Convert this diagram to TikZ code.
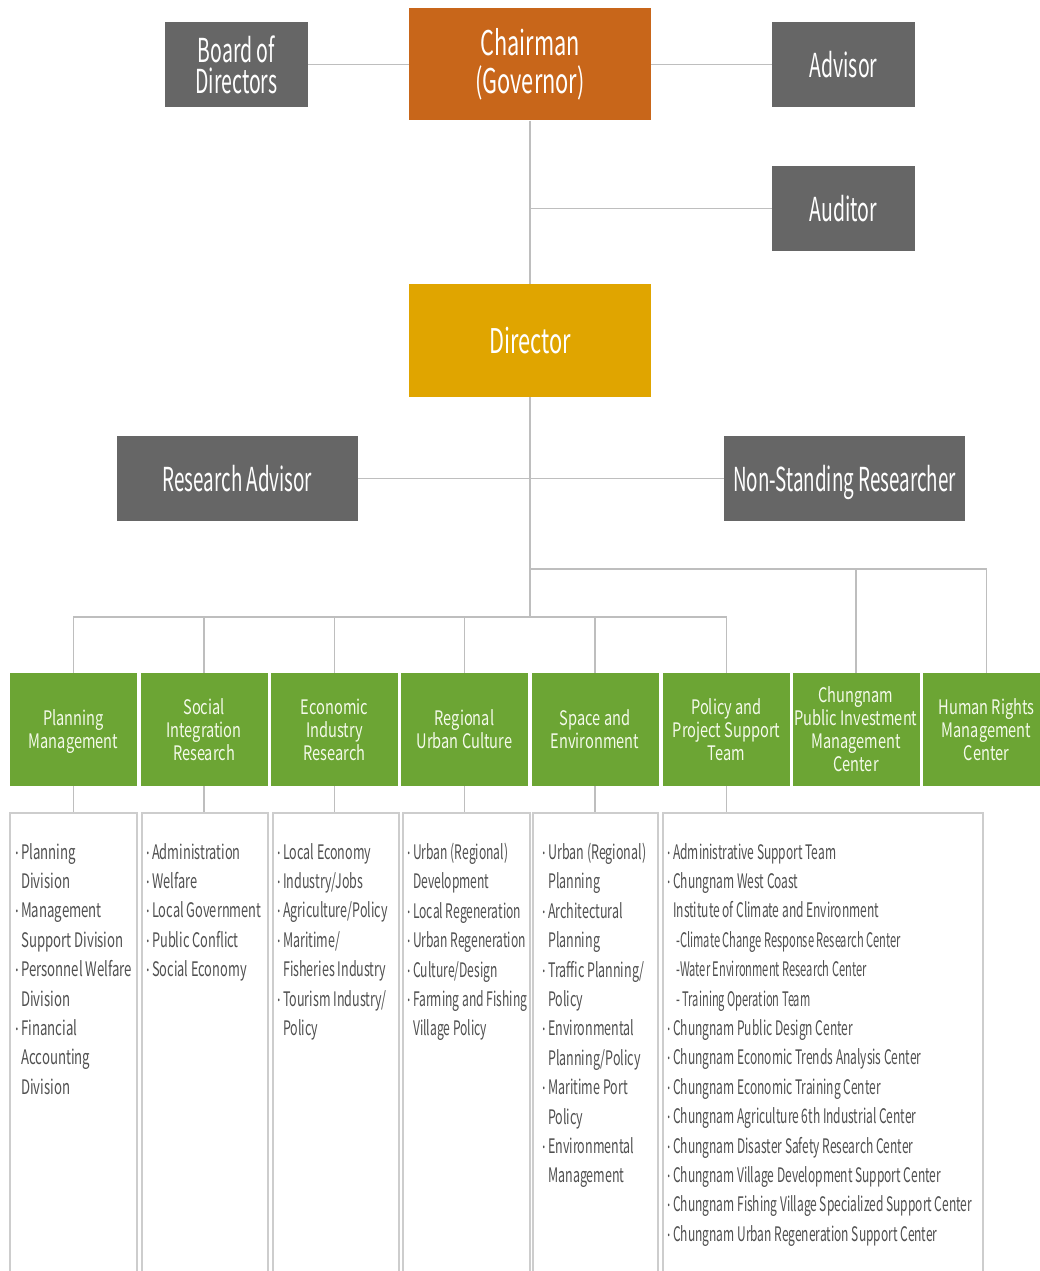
\documentclass[tikz,border=0pt]{standalone}
\usepackage{fontspec}
\setmainfont{Noto Sans CJK KR}
% condensed cuts of the same family for the different text blocks
\newfontfamily\chairfont{Noto Sans CJK KR}[FakeStretch=0.64]
\newfontfamily\greyfont{Noto Sans CJK KR}[FakeStretch=0.59]
\newfontfamily\widegreyfont{Noto Sans CJK KR}[FakeStretch=0.57]
\newfontfamily\unitfont{Noto Sans CJK KR}[FakeStretch=0.73]
\newfontfamily\listA{Noto Sans CJK KR}[FakeStretch=0.66]
\newfontfamily\listB{Noto Sans CJK KR}[FakeStretch=0.64]
\newfontfamily\listC{Noto Sans CJK KR}[FakeStretch=0.625]
\newfontfamily\listD{Noto Sans CJK KR}[FakeStretch=0.605]
\newfontfamily\listE{Noto Sans CJK KR}[FakeStretch=0.60]
\newfontfamily\listF{Noto Sans CJK KR}[FakeStretch=0.555]

\definecolor{chairorange}{RGB}{200,102,26}
\definecolor{directorgold}{RGB}{224,165,0}
\definecolor{boxgrey}{RGB}{102,102,102}
\definecolor{unitgreen}{RGB}{108,165,52}
\definecolor{unittext}{RGB}{244,250,234}
\definecolor{linegrey}{RGB}{190,190,190}
\definecolor{framegrey}{RGB}{205,205,205}
\definecolor{itemgrey}{RGB}{80,80,80}

% bullet and hanging indent for the duty lists
\newcommand\itm{\makebox[6pt][l]{\raisebox{5pt}{.}}}
\newcommand\cnt{\hspace*{6pt}}
\newcommand\subline[1]{{\listF #1}}

\tikzset{
  box/.style={inner sep=0pt, align=center, text=white},
  topbox/.style={box, minimum width=242pt, font=\chairfont\fontsize{34}{38}\selectfont},
  greybox/.style={box, fill=boxgrey, minimum width=143pt, minimum height=85pt,
    text depth=0pt, font=\greyfont\fontsize{33}{31}\selectfont},
  widegrey/.style={greybox, minimum width=241pt, font=\widegreyfont\fontsize{33}{31}\selectfont},
  unitbox/.style={box, fill=unitgreen, text=unittext, minimum width=127pt,
    minimum height=113pt, text depth=0pt, font=\unitfont\fontsize{20}{23}\selectfont},
  link/.style={draw=linegrey, line width=1.5pt},
  listframe/.style={draw=framegrey, line width=1.2pt},
  itemtext/.style={anchor=north west, inner sep=0pt, align=left, text=itemgrey,
    font=#1\fontsize{20}{29.4}\selectfont},
}

\begin{document}
\begin{tikzpicture}[x=1pt, y=-1pt]
\useasboundingbox (0,0) rectangle (1040,1271);
\fill[white] (0,0) rectangle (1040,1271);

% governance
\node[topbox, fill=chairorange, minimum height=112pt] (chair) at (530,64.5) {Chairman\\(Governor)};
\node[greybox] (board) at (236.5,64.5) {Board of\\Directors};
\node[greybox] (advisor) at (843.5,64.5) {Advisor};
\node[greybox] (auditor) at (843.5,208.5) {Auditor};
\node[topbox, fill=directorgold, minimum height=113pt] (director) at (530,340.5) {Director};
\node[widegrey] (radv) at (237.5,478.5) {Research Advisor};
\node[widegrey] (nsr) at (844.5,478.5) {Non-Standing Researcher};

% research units
\node[unitbox] (g1) at (73.5,729.5) {Planning\\Management};
\node[unitbox] (g2) at (204,729.5) {Social\\Integration\\Research};
\node[unitbox] (g3) at (334.5,729.5) {Economic\\Industry\\Research};
\node[unitbox] (g4) at (464.5,729.5) {Regional\\Urban Culture};
\node[unitbox] (g5) at (595,729.5) {Space and\\Environment};
\node[unitbox] (g6) at (726.5,729.5) {Policy and\\Project Support\\Team};
\node[unitbox] (g7) at (856,729.5) {Chungnam\\Public Investment\\Management\\Center};
\node[unitbox] (g8) at (986.5,729.5) {Human Rights\\Management\\Center};

% connectors
\coordinate (busR) at (530,569);
\coordinate (busL) at (530,617);
\draw[link] (board.east) -- (chair.west);
\draw[link] (chair.east) -- (advisor.west);
\draw[link] (chair.south) -- (director.north);
\draw[link] (auditor.west) -- (auditor.west -| director.north);
\draw[link] (radv.east) -- (nsr.west);
\draw[link] (director.south) -- (busL);
\foreach \g in {g1,g2,g3,g4,g5,g6} \draw[link] (busL) -| (\g.north);
\foreach \g in {g7,g8} \draw[link] (busR) -| (\g.north);

% duty lists, open at the bottom edge
\coordinate (l1) at (g1.south |- 0,813);
\coordinate (l2) at (g2.south |- 0,813);
\coordinate (l3) at (g3.south |- 0,813);
\coordinate (l4) at (g4.south |- 0,813);
\coordinate (l5) at (g5.south |- 0,813);
\coordinate (l6) at (g6.south |- 0,813);
\foreach \i in {1,...,6} \draw[link] (g\i.south) -- (l\i);

\draw[listframe] (10,1271) |- (137,813) -- (137,1271);
\draw[listframe] (142,1271) |- (268,813) -- (268,1271);
\draw[listframe] (273,1271) |- (399,813) -- (399,1271);
\draw[listframe] (403,1271) |- (530,813) -- (530,1271);
\draw[listframe] (533,1271) |- (658,813) -- (658,1271);
\draw[listframe] (663,1271) |- (983,813) -- (983,1271);

\node[itemtext=\listA] (t1) at (15,843) {\itm Planning\\\cnt Division\\\itm Management\\\cnt Support Division\\\itm Personnel Welfare\\\cnt Division\\\itm Financial\\\cnt Accounting\\\cnt Division};
\node[itemtext=\listB] (t2) at (146,843) {\itm Administration\\\itm Welfare\\\itm Local Government\\\itm Public Conflict\\\itm Social Economy};
\node[itemtext=\listC] (t3) at (277,843) {\itm Local Economy\\\itm Industry/Jobs\\\itm Agriculture/Policy\\\itm Maritime/\\\cnt Fisheries Industry\\\itm Tourism Industry/\\\cnt Policy};
\node[itemtext=\listD] (t4) at (407,843) {\itm Urban (Regional)\\\cnt Development\\\itm Local Regeneration\\\itm Urban Regeneration\\\itm Culture/Design\\\itm Farming and Fishing\\\cnt Village Policy};
\node[itemtext=\listC] (t5) at (542,843) {\itm Urban (Regional)\\\cnt Planning\\\itm Architectural\\\cnt Planning\\\itm Traffic Planning/\\\cnt Policy\\\itm Environmental\\\cnt Planning/Policy\\\itm Maritime Port\\\cnt Policy\\\itm Environmental\\\cnt Management};
\node[itemtext=\listE] (t6) at (667,843) {\itm Administrative Support Team\\\itm Chungnam West Coast\\\cnt Institute of Climate and Environment\\\cnt\,\subline{-Climate Change Response Research Center}\\\cnt\,\subline{-Water Environment Research Center}\\\cnt\,\subline{- Training Operation Team}\\\itm Chungnam Public Design Center\\\itm Chungnam Economic Trends Analysis Center\\\itm Chungnam Economic Training Center\\\itm Chungnam Agriculture 6th Industrial Center\\\itm Chungnam Disaster Safety Research Center\\\itm Chungnam Village Development Support Center\\\itm Chungnam Fishing Village Specialized Support Center\\\itm Chungnam Urban Regeneration Support Center};
\end{tikzpicture}
\end{document}
